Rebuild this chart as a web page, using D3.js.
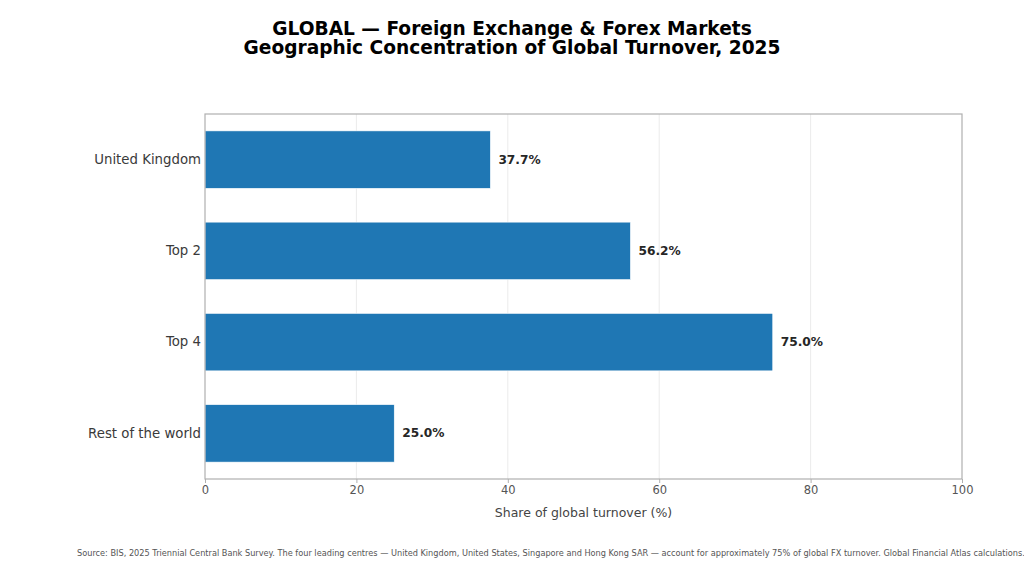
<!DOCTYPE html>
<html>
<head>
<meta charset="utf-8">
<script src="https://cdn.jsdelivr.net/npm/d3@7"></script>
<style>
  body { margin: 0; background: #fff; }
  text { font-family: "DejaVu Sans", sans-serif; }
</style>
</head>
<body>
<svg id="chart"></svg>
<script>
const categories = ['United Kingdom', 'Top 2', 'Top 4', 'Rest of the world'];
const shares = [37.7, 56.2, 75.0, 25.0];
const xTicks = [0, 20, 40, 60, 80, 100];
const titleLines = ['GLOBAL \u2014 Foreign Exchange & Forex Markets', 'Geographic Concentration of Global Turnover, 2025'];
const sourceNote = 'Source: BIS, 2025 Triennial Central Bank Survey. The four leading centres \u2014 United Kingdom, United States, Singapore and Hong Kong SAR \u2014 account for approximately 75% of global FX turnover. Global Financial Atlas calculations.';

const width = 1024, height = 570;
const margin = {top: 114, right: 62, bottom: 91, left: 205};
const innerW = width - margin.left - margin.right;
const innerH = height - margin.top - margin.bottom;

const svg = d3.select('#chart').attr('width', width).attr('height', height);

svg.selectAll('text.title')
    .data(titleLines)
    .join('text')
    .attr('class', 'title')
    .attr('x', width / 2)
    .attr('y', (d, i) => 35 + i * 19)
    .attr('text-anchor', 'middle')
    .style('font-size', '18.6px')
    .style('font-weight', 'bold')
    .attr('fill', '#000')
    .text(d => d);

const chart = svg.append('g')
    .attr('transform', `translate(${margin.left}, ${margin.top})`);

const xscale = d3.scaleLinear().domain([0, 100]).range([0, innerW]);
const yscale = d3.scaleBand().domain(categories).range([0, innerH])
    .paddingInner(0.37).paddingOuter(0.185);

// grid
chart.selectAll('line.grid')
    .data(xTicks.slice(1, -1))
    .join('line')
    .attr('class', 'grid')
    .attr('x1', d => xscale(d)).attr('x2', d => xscale(d))
    .attr('y1', 0).attr('y2', innerH)
    .attr('stroke', '#e6e6e6').attr('stroke-width', 0.8);

// bars
chart.selectAll('rect.bar')
    .data(shares)
    .join('rect')
    .attr('class', 'bar')
    .attr('x', xscale(0))
    .attr('y', (d, i) => yscale(categories[i]))
    .attr('width', d => xscale(d) - xscale(0))
    .attr('height', yscale.bandwidth())
    .attr('fill', '#1f77b4')
    .attr('stroke', '#fff').attr('stroke-width', 0.6);

// value labels
chart.selectAll('text.val')
    .data(shares)
    .join('text')
    .attr('class', 'val')
    .attr('x', d => xscale(d) + 8)
    .attr('y', (d, i) => yscale(categories[i]) + yscale.bandwidth() / 2)
    .attr('dominant-baseline', 'central')
    .style('font-size', '12.2px')
    .style('font-weight', 'bold')
    .attr('fill', '#262626')
    .text(d => d.toFixed(1) + '%');

// frame
chart.append('rect')
    .attr('x', 0).attr('y', 0).attr('width', innerW).attr('height', innerH)
    .attr('fill', 'none').attr('stroke', '#b0b0b0').attr('stroke-width', 1.2);

// x axis
const xaxis = d3.axisBottom(xscale).tickValues(xTicks).tickSize(4).tickPadding(3).tickSizeOuter(0);
const xg = chart.append('g').attr('transform', `translate(0, ${innerH})`).call(xaxis);
xg.select('.domain').remove();
xg.selectAll('line').attr('stroke', '#b0b0b0');
xg.selectAll('text').style('font-size', '11.5px').attr('fill', '#555').style('font-family', '"DejaVu Sans", sans-serif');

// y axis
const yaxis = d3.axisLeft(yscale).tickSize(0).tickPadding(4);
const yg = chart.append('g').call(yaxis);
yg.select('.domain').remove();
yg.selectAll('text').style('font-size', '13.3px').attr('fill', '#3a3a3a').style('font-family', '"DejaVu Sans", sans-serif');

svg.append('text')
    .attr('x', margin.left + innerW / 2)
    .attr('y', 517)
    .attr('text-anchor', 'middle')
    .style('font-size', '12.5px')
    .attr('fill', '#444')
    .text('Share of global turnover (%)');

svg.append('text')
    .attr('x', 77)
    .attr('y', 556)
    .style('font-size', '8.2px')
    .attr('fill', '#555')
    .text(sourceNote);
</script>
</body>
</html>
